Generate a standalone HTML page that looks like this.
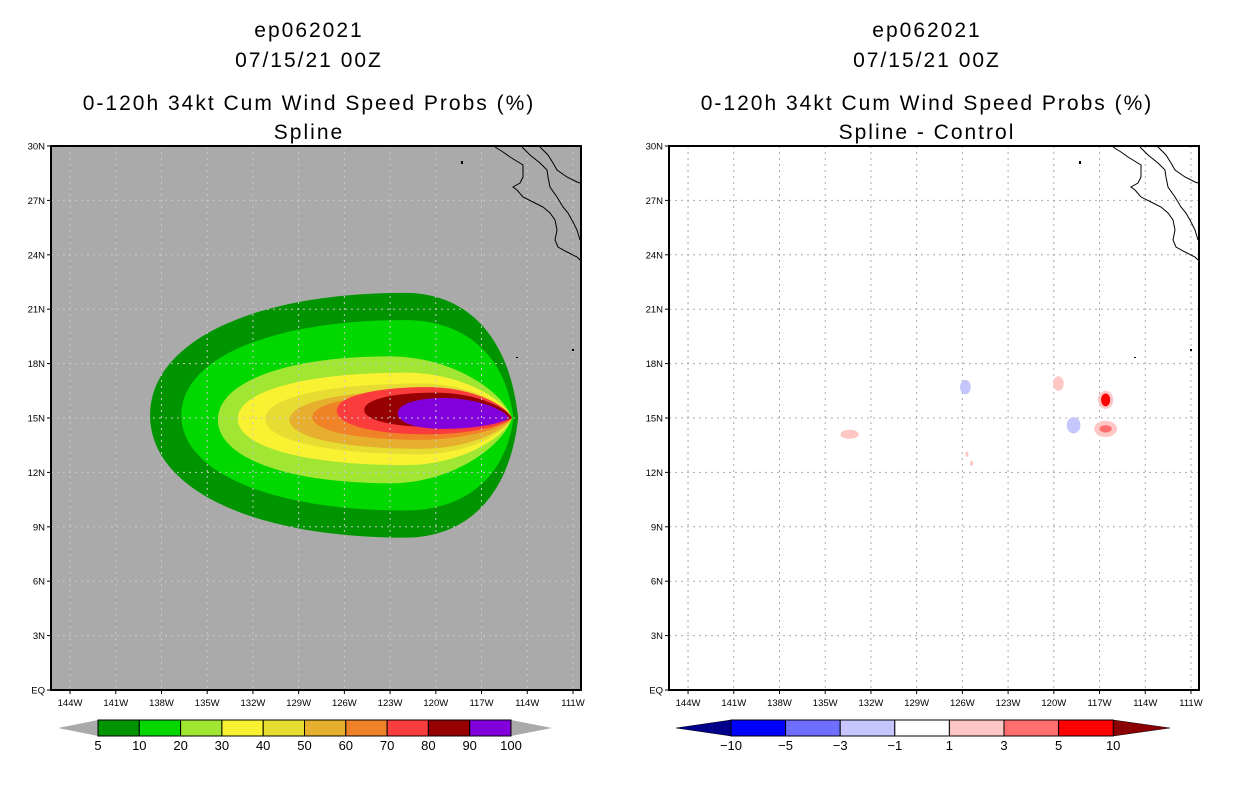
<!DOCTYPE html>
<html><head><meta charset="utf-8"><style>
html,body{margin:0;padding:0;background:#fff;}
svg{display:block;font-family:"Liberation Sans",sans-serif;}
.t{font-size:21px;text-anchor:middle;fill:#000;letter-spacing:2px}
.ax{font-size:9.5px;fill:#000}
.cb{font-size:13px;text-anchor:middle;fill:#000}
</style></head><body>
<svg id="s" width="1236" height="800" viewBox="0 0 1236 800">
<rect width="1236" height="800" fill="#fff"/>
<g>
<text class="t" x="309" y="37">ep062021</text>
<text class="t" x="309" y="67">07/15/21 00Z</text>
<text class="t" x="309" y="110">0-120h 34kt Cum Wind Speed Probs (%)</text>
<text class="t" x="309" y="139">Spline</text>
</g>
<g>
<text class="t" x="927" y="37">ep062021</text>
<text class="t" x="927" y="67">07/15/21 00Z</text>
<text class="t" x="927" y="110">0-120h 34kt Cum Wind Speed Probs (%)</text>
<text class="t" x="927" y="139">Spline - Control</text>
</g>
<g id="L"></g>
<g id="R"></g>
<g id="CL"></g>
<g id="CR"></g>
</svg>
<script>
// contour levels (%) and shape data: west lon (W), north lat, south lat, top lon (W)
const levels=[5,10,20,30,40,50,60,70,80,90];
const levelColors=['#009500','#00d800','#a0e632','#f8f232','#e6dc32','#e6af2d','#f08228','#fa3c3c','#960000','#8200dc'];
const westLon=[138.75,136.7,134.3,133.0,131.2,129.6,128.1,126.5,124.7,122.5];
const northLat=[21.9,20.4,18.4,17.5,16.9,16.5,16.3,16.7,16.4,16.1];
const southLat=[8.4,9.9,11.4,12.4,13.0,13.3,13.8,14.1,14.5,14.4];
const topLon=[122,122,123,122,121,121,121,120.5,120,119.5];
const tipLon=[114.6,114.9,115.0,115.0,115.0,115.0,115.0,115.0,115.0,115.2];
const tipLat=15.0;
// difference blobs: lon W, lat, rx(deg), ry(deg), category value
const blobLon=[133.4,125.8,118.7,119.7,116.6,116.6,116.6,116.6,125.7,125.4];
const blobLat=[14.1,16.7,14.6,16.9,16.0,16.0,14.4,14.4,13.0,12.5];
const blobRx=[0.6,0.35,0.45,0.35,0.5,0.3,0.75,0.4,0.1,0.1];
const blobRy=[0.25,0.4,0.45,0.4,0.5,0.35,0.45,0.2,0.15,0.15];
const blobVal=[2,-2,-2,2,2,7,2,4,2,2];
const latTicks=[30,27,24,21,18,15,12,9,6,3,0];
const lonTicks=[144,141,138,135,132,129,126,123,120,117,114,111];
const cbLabelsL=['5','10','20','30','40','50','60','70','80','90','100'];
const cbLabelsR=['-10','-5','-3','-1','1','3','5','10'];
const cbColorsR=['#0000ff','#6e6eff','#c6c6ff','#ffffff','#ffc6c6','#ff6e6e','#ff0000'];
const NS='http://www.w3.org/2000/svg';
function mk(p,tag,a){const e=document.createElementNS(NS,tag);for(const k in a)e.setAttribute(k,a[k]);p.appendChild(e);return e;}
const PX=51,PY=146,PW=530,PH=544;
function xs(lon,off){return off+PX+(145.25-lon)*15.24;}
function ys(lat){return PY+(30-lat)*18.133;}
function drawFrame(g,off,bg){
  const r=mk(g,'rect',{x:off+PX,y:PY,width:PW,height:PH,fill:bg});
  
  
}
function drawGrid(g,off,gridColor){
  lonTicks.forEach(l=>{const x=xs(l,off);
    const ln=mk(g,'line',{x1:x,y1:PY,x2:x,y2:PY+PH,stroke:gridColor,'stroke-width':1,'stroke-dasharray':'2,4'});
    
    
    mk(g,'line',{x1:x,y1:PY+PH,x2:x,y2:PY+PH+4,stroke:'#000'});
    const t=mk(g,'text',{x:x,y:PY+PH+16,'class':'ax','text-anchor':'middle'});t.textContent=l+'W';
    
    
  });
  latTicks.forEach(l=>{const y=ys(l);
    if(l>0&&l<30){const ln=mk(g,'line',{x1:off+PX,y1:y,x2:off+PX+PW,y2:y,stroke:gridColor,'stroke-width':1,'stroke-dasharray':'2,4'});
      
      }
    mk(g,'line',{x1:off+PX-4,y1:y,x2:off+PX,y2:y,stroke:'#000'});
    const t=mk(g,'text',{x:off+PX-6,y:y+3.5,'class':'ax','text-anchor':'end'});t.textContent=l===0?'EQ':l+'N';
    
    
  });
}
const coastA=[[495,147],[503,152],[510,157],[523,165],[523,177],[520,183],[513,187],[517,190],[523,197],[533,202],[543,207],[550,213],[555,220],[557,230],[555,240],[558,247],[567,252],[577,257],[580,260]];
const coastB=[[522,147],[530,155],[540,163],[547,170],[548,177],[550,187],[557,197],[563,207],[568,213],[573,222],[577,230],[580,240]];
const coastC=[[540,147],[548,155],[553,163],[557,170],[567,177],[577,182],[580,183]];
function drawCoast(g,off){
  [coastA,coastB,coastC].forEach(c=>{
    const p=mk(g,'polyline',{points:c.map(q=>(q[0]+off)+','+q[1]).join(' '),fill:'none',stroke:'#000','stroke-width':1});
    
    
  });
  mk(g,'rect',{x:off+461,y:161,width:2,height:3,fill:'#000'});
  mk(g,'rect',{x:off+516,y:357,width:2,height:1,fill:'#000'});
  mk(g,'rect',{x:off+572,y:349,width:2,height:2,fill:'#000'});
}
function border(g,off){mk(g,'rect',{x:off+PX,y:PY,width:PW,height:PH,fill:'none',stroke:'#000','stroke-width':2});}
// Left
const L=document.getElementById('L');
drawFrame(L,0,'#aaaaaa');
levels.forEach((lv,i)=>{
  const tx=xs(tipLon[i],0),ty=ys(tipLat),xT=xs(topLon[i],0),yN=ys(northLat[i]),yS=ys(southLat[i]),xW=xs(westLon[i],0);
  const yM=(yN+yS)/2,d=tx-xT;
  const r=i<2?0.7:0.45;
  const path=`M${tx},${ty} C${tx-d*0.08},${ty-(ty-yN)*r} ${xT+d*0.5},${yN} ${xT},${yN} C${xT-(xT-xW)*0.6},${yN} ${xW},${yM-(yM-yN)*0.6} ${xW},${yM} C${xW},${yM+(yS-yM)*0.6} ${xT-(xT-xW)*0.6},${yS} ${xT},${yS} C${xT+d*0.5},${yS} ${tx-d*0.08},${ty+(yS-ty)*r} ${tx},${ty}Z`;
  const p=mk(L,'path',{d:path,fill:levelColors[i]});
  
  
});
drawGrid(L,0,'#c8c8c8');
drawCoast(L,0);
border(L,0);
// Right
const R=document.getElementById('R');
drawFrame(R,618,'#ffffff');
drawGrid(R,618,'#aaaaaa');
function blobColor(v){if(v>=5)return '#ff0000';if(v>=3)return '#ff6e6e';if(v>=1)return '#ffc6c6';if(v<=-5)return '#0000ff';if(v<=-3)return '#6e6eff';return '#c6c6ff';}
blobVal.forEach((v,i)=>{
  const e=mk(R,'ellipse',{cx:xs(blobLon[i],618),cy:ys(blobLat[i]),rx:blobRx[i]*15.24,ry:blobRy[i]*18.13,fill:blobColor(v)});
  
  
});
drawCoast(R,618);
border(R,618);
// Left colorbar
const CL=document.getElementById('CL');
const y0=720,h=16,x0=98,bw=41.3;
mk(CL,'polygon',{points:`58,${y0+h/2} ${x0},${y0} ${x0},${y0+h}`,fill:'#aaaaaa'});
mk(CL,'polygon',{points:`552,${y0+h/2} ${x0+10*bw},${y0} ${x0+10*bw},${y0+h}`,fill:'#aaaaaa'});
levelColors.forEach((c,i)=>{const r=mk(CL,'rect',{x:x0+i*bw,y:y0,width:bw,height:h,fill:c,stroke:'#000','stroke-width':1});
  
  });
cbLabelsL.forEach((s,i)=>{const t=mk(CL,'text',{x:x0+i*bw,y:y0+h+14,'class':'cb'});t.textContent=s;
  
  });
// Right colorbar
const CR=document.getElementById('CR');
const rx0=731,rbw=54.6;
mk(CR,'polygon',{points:`676,${y0+h/2} ${rx0},${y0} ${rx0},${y0+h}`,fill:'#00008b',stroke:'#000','stroke-width':0.5});
mk(CR,'polygon',{points:`1170,${y0+h/2} ${rx0+7*rbw},${y0} ${rx0+7*rbw},${y0+h}`,fill:'#8b0000',stroke:'#000','stroke-width':0.5});
cbColorsR.forEach((c,i)=>{const r=mk(CR,'rect',{x:rx0+i*rbw,y:y0,width:rbw,height:h,fill:c,stroke:'#000','stroke-width':1});
  
  });
cbLabelsR.forEach((s,i)=>{const t=mk(CR,'text',{x:rx0+i*rbw,y:y0+h+14,'class':'cb'});t.textContent=s.replace('-','\u2212');
  
  });
</script>
</body></html>
